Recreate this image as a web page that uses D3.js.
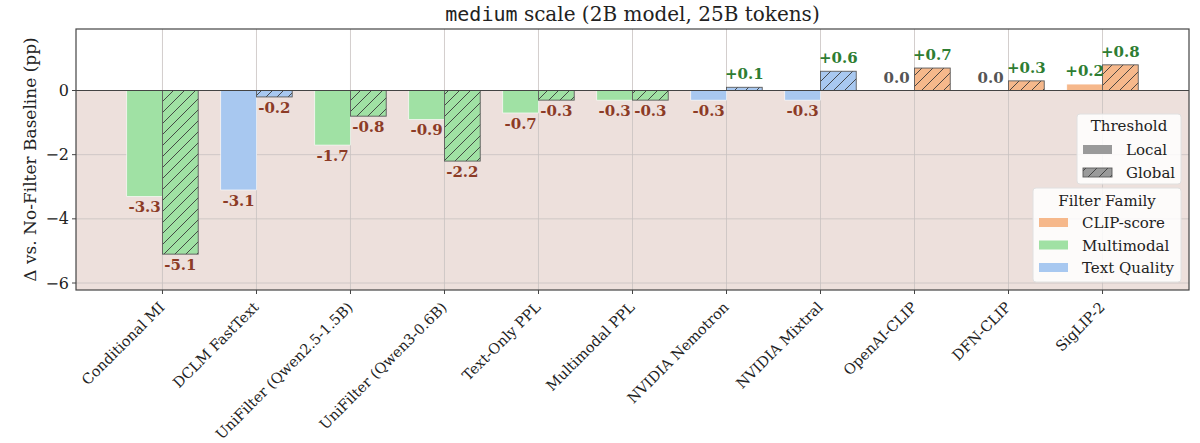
<!DOCTYPE html>
<html>
<head>
<meta charset="utf-8">
<script src="https://cdn.jsdelivr.net/npm/d3@7"></script>
<style>
  body { margin: 0; background: #fff; }
  text { font-family: "DejaVu Serif", serif; }
</style>
</head>
<body>
<script>
// filters, their family and the two threshold variants (pp vs no-filter baseline)
var categories = ["Conditional MI", "DCLM FastText", "UniFilter (Qwen2.5-1.5B)", "UniFilter (Qwen3-0.6B)",
  "Text-Only PPL", "Multimodal PPL", "NVIDIA Nemotron", "NVIDIA Mixtral", "OpenAI-CLIP", "DFN-CLIP", "SigLIP-2"];
var families = ["Multimodal", "Text Quality", "Multimodal", "Multimodal", "Multimodal", "Multimodal",
  "Text Quality", "Text Quality", "CLIP-score", "CLIP-score", "CLIP-score"];
var localVals = [-3.3, -3.1, -1.7, -0.9, -0.7, -0.3, -0.3, -0.3, 0.0, 0.0, 0.2];
var globalVals = [-5.1, -0.2, -0.8, -2.2, -0.3, -0.3, 0.1, 0.6, 0.7, 0.3, 0.8];
var yTicks = [0, -2, -4, -6];
var familyNames = ["CLIP-score", "Multimodal", "Text Quality"];
var familyColors = ["#f6b88b", "#a0e1a4", "#a8c8f0"];
var thresholdNames = ["Local", "Global"];

var svg_width = 1200, svg_height = 443;
var plotLeft = 76, plotRight = 1189, plotTop = 29, plotBottom = 290;
var barW = 0.38;

var svg = d3.select("body").append("svg")
  .attr("width", svg_width)
  .attr("height", svg_height);

var x = d3.scaleLinear().domain([-0.92, 10.92]).range([plotLeft, plotRight]);
var y = d3.scaleLinear().domain([-6.218, 1.917]).range([plotBottom, plotTop]);
var color = d3.scaleOrdinal().domain(familyNames).range(familyColors);

// hatch pattern for global threshold bars
var defs = svg.append("defs");
var pat = defs.append("pattern")
  .attr("id", "hatch")
  .attr("patternUnits", "userSpaceOnUse")
  .attr("width", 11).attr("height", 11);
pat.append("path")
  .attr("d", "M-1,12 L12,-1 M-2,2 L2,-2 M9,13 L13,9")
  .attr("stroke", "#3a3a3a")
  .attr("stroke-width", 0.9);

// negative region shading
svg.append("rect")
  .attr("x", plotLeft).attr("y", y(0))
  .attr("width", plotRight - plotLeft).attr("height", plotBottom - y(0))
  .attr("fill", "#ede0dc");

// grid
svg.selectAll(".hgrid").data(yTicks).enter().append("line")
  .attr("x1", plotLeft).attr("x2", plotRight)
  .attr("y1", function(d) { return y(d); }).attr("y2", function(d) { return y(d); })
  .attr("stroke", "#c8c2c0").attr("stroke-width", 0.8);
svg.selectAll(".vgrid").data(categories).enter().append("line")
  .attr("x1", function(d, i) { return x(i); }).attr("x2", function(d, i) { return x(i); })
  .attr("y1", plotTop).attr("y2", plotBottom)
  .attr("stroke", "#c8c2c0").attr("stroke-width", 0.8);

// local bars
svg.selectAll(".local").data(localVals).enter().append("rect")
  .attr("x", function(d, i) { return x(i - barW); })
  .attr("width", x(barW) - x(0))
  .attr("y", function(d) { return y(Math.max(0, d)); })
  .attr("height", function(d) { return Math.abs(y(d) - y(0)); })
  .attr("fill", function(d, i) { return color(families[i]); })
  .attr("stroke", "#fff").attr("stroke-width", 0.6);

// global bars
var g = svg.selectAll(".global").data(globalVals).enter().append("g");
g.append("rect")
  .attr("x", function(d, i) { return x(i); })
  .attr("width", x(barW) - x(0))
  .attr("y", function(d) { return y(Math.max(0, d)); })
  .attr("height", function(d) { return Math.abs(y(d) - y(0)); })
  .attr("fill", function(d, i) { return color(families[i]); });
g.append("rect")
  .attr("x", function(d, i) { return x(i); })
  .attr("width", x(barW) - x(0))
  .attr("y", function(d) { return y(Math.max(0, d)); })
  .attr("height", function(d) { return Math.abs(y(d) - y(0)); })
  .attr("fill", "url(#hatch)")
  .attr("stroke", "#5a5a5a").attr("stroke-width", 0.9);

// value labels
function fmt(v) {
  if (v > 0) return "+" + v.toFixed(1);
  return v.toFixed(1);
}
function labelColor(v) {
  if (v > 0) return "#2e7d32";
  if (v < 0) return "#8c3b26";
  return "#555555";
}
function addLabels(vals, offset) {
  svg.selectAll(null).data(vals).enter().append("text")
    .attr("x", function(d, i) { return x(i + offset); })
    .attr("y", function(d) { return d < 0 ? y(d) + 16 : y(d) - 8; })
    .attr("text-anchor", "middle")
    .attr("font-size", 15)
    .attr("font-weight", "bold")
    .attr("fill", function(d) { return labelColor(d); })
    .text(function(d) { return fmt(d); });
}
addLabels(localVals, -barW / 2);
addLabels(globalVals, barW / 2);

// zero line
svg.append("line")
  .attr("x1", plotLeft).attr("x2", plotRight)
  .attr("y1", y(0)).attr("y2", y(0))
  .attr("stroke", "#444").attr("stroke-width", 1.2);

// frame
svg.append("rect")
  .attr("x", plotLeft).attr("y", plotTop)
  .attr("width", plotRight - plotLeft).attr("height", plotBottom - plotTop)
  .attr("fill", "none").attr("stroke", "#444").attr("stroke-width", 1.2);

// y axis ticks
svg.selectAll(".ytick").data(yTicks).enter().append("line")
  .attr("x1", plotLeft - 4).attr("x2", plotLeft)
  .attr("y1", function(d) { return y(d); }).attr("y2", function(d) { return y(d); })
  .attr("stroke", "#444");
svg.selectAll(".ylab").data(yTicks).enter().append("text")
  .attr("x", plotLeft - 7)
  .attr("y", function(d) { return y(d) + 5.5; })
  .attr("text-anchor", "end")
  .attr("font-size", 16)
  .attr("fill", "#222")
  .text(function(d) { return d < 0 ? "\u2212" + Math.abs(d) : d; });

// x axis ticks
svg.selectAll(".xtick").data(categories).enter().append("line")
  .attr("x1", function(d, i) { return x(i); }).attr("x2", function(d, i) { return x(i); })
  .attr("y1", plotBottom).attr("y2", plotBottom + 4)
  .attr("stroke", "#444");
svg.selectAll(".xlab").data(categories).enter().append("text")
  .attr("transform", function(d, i) { return "translate(" + (x(i) - 4) + "," + (plotBottom + 11) + ") rotate(-45)"; })
  .attr("text-anchor", "end")
  .attr("dy", "0.7em")
  .attr("font-size", 14.5)
  .attr("fill", "#222")
  .text(function(d) { return d; });

// axis title
svg.append("text")
  .attr("transform", "translate(36," + ((plotTop + plotBottom) / 2) + ") rotate(-90)")
  .attr("text-anchor", "middle")
  .attr("font-size", 17)
  .attr("fill", "#222")
  .text("\u0394 vs. No-Filter Baseline (pp)");

// chart title
var title = svg.append("text")
  .attr("x", (plotLeft + plotRight) / 2)
  .attr("y", 21)
  .attr("text-anchor", "middle")
  .attr("font-size", 20)
  .attr("fill", "#222");
title.append("tspan").attr("font-family", "DejaVu Sans Mono, monospace").text("medium");
title.append("tspan").text(" scale (2B model, 25B tokens)");

// legend: threshold
var lg1 = svg.append("g");
lg1.append("rect")
  .attr("x", 1077).attr("y", 114).attr("width", 104).attr("height", 70)
  .attr("rx", 3).attr("fill", "#fff").attr("fill-opacity", 0.85)
  .attr("stroke", "#e0e0e0");
lg1.append("text").attr("x", 1129).attr("y", 131).attr("text-anchor", "middle")
  .attr("font-size", 15).attr("fill", "#222").text("Threshold");
thresholdNames.forEach(function(name, i) {
  var yy = 145 + i * 23;
  lg1.append("rect").attr("x", 1083).attr("y", yy).attr("width", 29).attr("height", 9)
    .attr("fill", "#9a9a9a");
  if (i === 1) {
    lg1.append("rect").attr("x", 1083).attr("y", yy).attr("width", 29).attr("height", 9)
      .attr("fill", "url(#hatch)").attr("stroke", "#5a5a5a").attr("stroke-width", 0.9);
  }
  lg1.append("text").attr("x", 1126).attr("y", yy + 10).attr("font-size", 15)
    .attr("fill", "#222").text(name);
});

// legend: filter family
var lg2 = svg.append("g");
lg2.append("rect")
  .attr("x", 1033).attr("y", 188).attr("width", 148).attr("height", 94)
  .attr("rx", 3).attr("fill", "#fff").attr("fill-opacity", 0.85)
  .attr("stroke", "#e0e0e0");
lg2.append("text").attr("x", 1107).attr("y", 206).attr("text-anchor", "middle")
  .attr("font-size", 15).attr("fill", "#222").text("Filter Family");
familyNames.forEach(function(name, i) {
  var yy = 218 + i * 22.5;
  lg2.append("rect").attr("x", 1039).attr("y", yy).attr("width", 29).attr("height", 9)
    .attr("fill", color(name));
  lg2.append("text").attr("x", 1082).attr("y", yy + 10).attr("font-size", 15)
    .attr("fill", "#222").text(name);
});
</script>
</body>
</html>
